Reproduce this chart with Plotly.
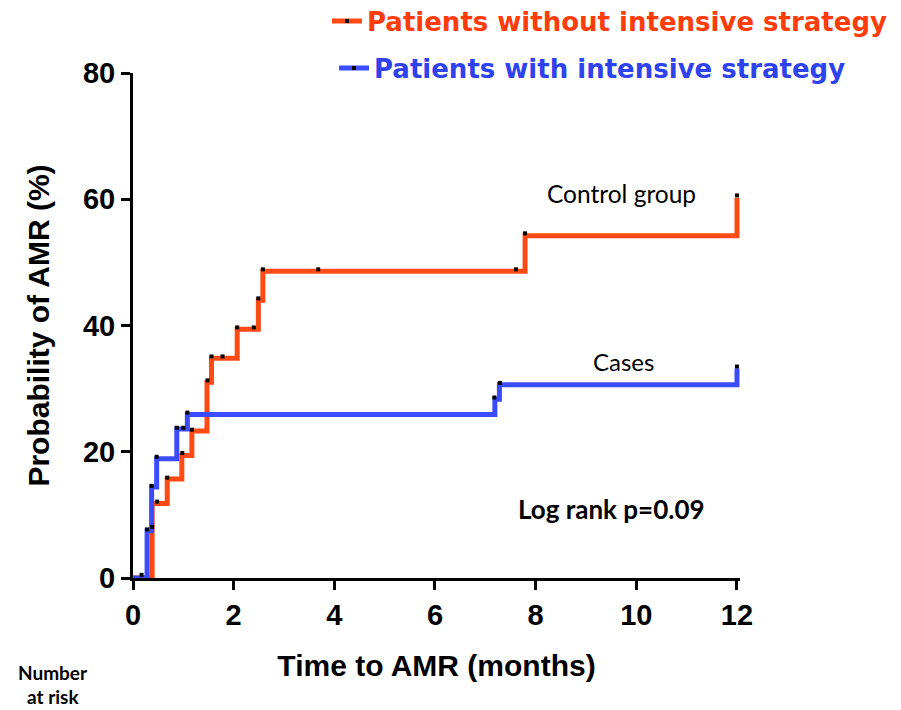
import plotly.graph_objects as go

# Step curves (Kaplan-Meier style cumulative incidence, %)
t_without = [0, 0.38, 0.68, 0.97, 1.17, 1.47, 1.56, 2.07, 2.49, 2.58, 7.79, 12.0]
v_without = [0, 11.8, 15.7, 19.4, 23.3, 31.0, 34.8, 39.4, 44.0, 48.6, 54.2, 60.2]

t_with = [0, 0.28, 0.37, 0.47, 0.87, 1.08, 7.19, 7.28, 12.0]
v_with = [0, 7.5, 14.4, 18.9, 23.6, 25.9, 28.3, 30.6, 33.2]

# Censor tick marks
cens_t_without = [0.38, 0.48, 0.68, 0.98, 1.17, 1.48, 1.56, 1.78, 2.07, 2.40, 2.49, 2.58, 3.68, 7.61, 7.79, 12.0]
cens_v_without = [8.1, 12.1, 15.9, 19.8, 23.5, 31.3, 35.1, 35.1, 39.7, 39.7, 44.3, 48.9, 48.9, 48.9, 54.6, 60.6]
cens_t_with = [0.17, 0.28, 0.37, 0.47, 0.87, 1.00, 1.08, 7.18, 7.29, 12.0]
cens_v_with = [0.5, 7.7, 14.6, 19.2, 23.8, 23.8, 26.2, 28.6, 30.9, 33.5]

x_ticks = [0, 2, 4, 6, 8, 10, 12]
y_ticks = [0, 20, 40, 60, 80]

ORANGE = "#FF4A14"
BLUE = "#3B4CFF"
ORANGE_TXT = "#FF3C0A"
BLUE_TXT = "#2E42EE"

fig = go.Figure()
fig.add_trace(go.Scatter(x=t_without, y=v_without, mode="lines", line=dict(shape="hv", color=ORANGE, width=5),
                         showlegend=False, hoverinfo="skip"))
fig.add_trace(go.Scatter(x=t_with, y=v_with, mode="lines", line=dict(shape="hv", color=BLUE, width=5),
                         showlegend=False, hoverinfo="skip"))
fig.add_trace(go.Scatter(x=cens_t_without, y=cens_v_without, mode="markers",
                         marker=dict(symbol="square", size=4, color="black"), showlegend=False, cliponaxis=False))
fig.add_trace(go.Scatter(x=cens_t_with, y=cens_v_with, mode="markers",
                         marker=dict(symbol="square", size=4, color="black"), showlegend=False, cliponaxis=False))

# legend entries
fig.add_trace(go.Scatter(x=[None], y=[None], mode="lines+markers", name="Patients without intensive strategy",
                         line=dict(color=ORANGE, width=5), marker=dict(symbol="square", size=4, color="black"),
                         legend="legend"))
fig.add_trace(go.Scatter(x=[None], y=[None], mode="lines+markers", name="Patients with intensive strategy",
                         line=dict(color=BLUE, width=5), marker=dict(symbol="square", size=4, color="black"),
                         legend="legend2"))

FAM = "Liberation Sans, Arial"

# plot area: x=0 at 133px, x=12 at 737px; range slightly beyond 12 so the last step isn't clipped
X_MAX = 12.06
L = 133
W = 604 * X_MAX / 12
R = 901 - L - W
def px(p):
    return (p - L) / W
def py(p):
    return (578 - p) / 505

fig.update_layout(
    width=901, height=710,
    margin=dict(l=L, r=R, t=73, b=132, autoexpand=False),
    paper_bgcolor="white", plot_bgcolor="white",
    xaxis=dict(range=[0, X_MAX], tickvals=x_ticks, ticktext=[str(v) for v in x_ticks],
               showline=True, linewidth=3, linecolor="black", ticks="outside", ticklen=9, tickwidth=3,
               tickcolor="black", showgrid=False, zeroline=False,
               tickfont=dict(family=FAM, size=29, color="black", weight="bold"),
               title=dict(text="Time to AMR (months)", standoff=26,
                          font=dict(family=FAM, size=30, color="black", weight="bold"))),
    yaxis=dict(range=[0, 80], tickvals=y_ticks, ticktext=[str(v) for v in y_ticks],
               showline=True, linewidth=3, linecolor="black", ticks="outside", ticklen=9, tickwidth=3,
               tickcolor="black", showgrid=False, zeroline=False,
               tickfont=dict(family=FAM, size=29, color="black", weight="bold"),
               title=dict(text="Probability of AMR (%)", standoff=25,
                          font=dict(family=FAM, size=30, color="black", weight="bold"))),
    legend=dict(x=px(327), y=py(21), xanchor="left", yanchor="middle",
                bgcolor="rgba(0,0,0,0)",
                font=dict(family="DejaVu Sans", size=26, color=ORANGE_TXT, weight="bold")),
    legend2=dict(x=px(334), y=py(68), xanchor="left", yanchor="middle",
                 bgcolor="rgba(0,0,0,0)",
                 font=dict(family="DejaVu Sans", size=26, color=BLUE_TXT, weight="bold")),
    annotations=[
        dict(text="Control group", x=9.7, y=60.9, xref="x", yref="y", showarrow=False,
             xanchor="center", yanchor="middle",
             font=dict(family="Lato", size=24.5, color="black")),
        dict(text="Cases", x=9.75, y=34.3, xref="x", yref="y", showarrow=False,
             xanchor="center", yanchor="middle",
             font=dict(family="Lato", size=24, color="black")),
        dict(text="Log rank p=0.09", x=9.5, y=10.9, xref="x", yref="y", showarrow=False,
             xanchor="center", yanchor="middle",
             font=dict(family="Lato", size=26, color="black", weight="bold")),
        dict(text="Number", x=px(53), y=py(672), xref="paper", yref="paper",
             xanchor="center", yanchor="middle", borderpad=0,
             showarrow=False, font=dict(family="Lato", size=19, color="black", weight="bold")),
        dict(text="at risk", x=px(53), y=py(696), xref="paper", yref="paper",
             xanchor="center", yanchor="middle", borderpad=0,
             showarrow=False, font=dict(family="Lato", size=19, color="black", weight="bold")),
    ],
)

fig.write_html("out.html")
